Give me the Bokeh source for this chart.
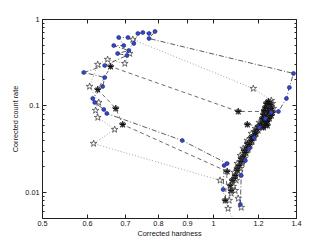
from bokeh.plotting import figure
from bokeh.models import FixedTicker, LogAxis, CustomJSTickFormatter, CustomLabelingPolicy
from bokeh.embed import file_html
from bokeh.resources import INLINE

# ---- data ----
x_ticks = [0.5, 0.6, 0.7, 0.8, 0.9, 1.0, 1.2, 1.4]
x_tick_labels = ["0.5", "0.6", "0.7", "0.8", "0.9", "1", "1.2", "1.4"]
y_ticks = [0.01, 0.1, 1.0]
y_tick_labels = ["0.01", "0.1", "1"]
y_minor = [0.006, 0.007, 0.008, 0.009, 0.02, 0.03, 0.04, 0.05, 0.06, 0.07, 0.08, 0.09,
           0.2, 0.3, 0.4, 0.5, 0.6, 0.7, 0.8, 0.9]

# outburst with blue dots (dash-dot)
blue_hardness = [1.115, 1.119, 1.138, 1.156, 1.180, 1.204, 1.234, 1.264, 1.301, 1.344, 1.360, 1.383,
                 0.770, 0.789, 0.770, 0.751, 0.736, 0.724, 0.707, 0.681, 0.695, 0.6675, 0.7095, 0.678,
                 0.704, 0.6435, 0.591, 0.6435, 0.638, 0.613, 0.618, 0.641, 0.649,
                 0.881, 1.057, 1.044, 1.040]
blue_rate = [0.00727, 0.0157, 0.0234, 0.0323, 0.0432, 0.0564, 0.0717, 0.0841, 0.0864, 0.1221, 0.1636, 0.238,
             0.603, 0.727, 0.689, 0.707, 0.689, 0.528, 0.619, 0.619, 0.500, 0.500, 0.438, 0.404,
             0.384, 0.294, 0.244, 0.2136, 0.168, 0.1221, 0.1098, 0.0911, 0.0819,
             0.0399, 0.0216, 0.0205, 0.0108]

# outburst with asterisks (dashed)
ast_hardness = [1.074, 1.088, 1.101, 1.119, 1.133, 1.147, 1.166, 1.185, 1.199, 1.224, 1.239, 1.249,
                1.244, 1.254, 1.229, 1.1055,
                0.659, 0.6255, 0.673, 0.692,
                1.057, 1.0485]
ast_rate = [0.0105, 0.0145, 0.0189, 0.0247, 0.0306, 0.0368, 0.0432, 0.0507, 0.0579, 0.0662, 0.0756, 0.0841,
            0.0961, 0.1069, 0.0864, 0.0864,
            0.286, 0.1551, 0.0935, 0.0611,
            0.0175, 0.00809]

ast2_hardness = [1.070, 1.079, 1.092, 1.101, 1.110, 1.119, 1.128, 1.138, 1.147, 1.156, 1.166, 1.175,
                 1.185, 1.194, 1.204, 1.214, 1.224, 1.234, 1.239, 1.244, 1.249, 1.254, 1.259, 1.264,
                 1.254, 1.244, 1.234, 1.224, 1.147]
ast2_rate = [0.0120, 0.0138, 0.0157, 0.0180, 0.0205, 0.0228, 0.0261, 0.0290, 0.0331, 0.0359, 0.0399, 0.0444,
             0.0481, 0.0535, 0.0579, 0.0628, 0.0698, 0.0756, 0.0819, 0.0887, 0.0988, 0.1041, 0.0935, 0.0841,
             0.0756, 0.0698, 0.0645, 0.0579, 0.0611]

ast3_hardness = [1.224, 1.234, 1.244, 1.254, 1.264, 1.2695, 1.264, 1.259, 1.249, 1.239, 1.234, 1.229,
                 1.224, 1.219, 1.229, 1.244]
ast3_rate = [0.0564, 0.0611, 0.0662, 0.0717, 0.0777, 0.0841, 0.0935, 0.1041, 0.1128, 0.1069, 0.0961, 0.0887,
             0.0797, 0.0717, 0.0662, 0.0595]

# outburst with open stars (dotted)
star_hardness = [1.119, 1.1055, 1.092, 1.088, 1.101, 1.115, 1.128, 1.147, 1.166, 1.185, 1.204, 1.229,
                 1.244, 1.259, 1.264, 1.175,
                 0.721, 0.712, 0.698, 0.651, 0.6255, 0.605, 0.628, 0.620, 0.6255, 0.670, 0.615,
                 1.027, 1.061, 1.079]
star_rate = [0.00671, 0.00853, 0.0105, 0.0170, 0.0216, 0.0268, 0.0323, 0.0399, 0.0481, 0.0549, 0.0645, 0.0736,
             0.0841, 0.0988, 0.1158, 0.1593,
             0.587, 0.404, 0.310, 0.345, 0.302, 0.168, 0.1098, 0.0887, 0.0736, 0.0535, 0.0368,
             0.0138, 0.00653, 0.00514]

star2_hardness = [1.0657, 1.0744, 1.0832, 1.0965, 1.1055, 1.1146, 1.1237, 1.133, 1.142, 1.1514, 1.1608,
                  1.1703, 1.180, 1.1895, 1.1992, 1.2, 1.2189, 1.2288, 1.2388, 1.249, 1.2592, 1.2643,
                  1.2695, 1.2746]
star2_rate = [0.00809, 0.00974, 0.01173, 0.0138, 0.01614, 0.01894, 0.0216, 0.0247, 0.02825, 0.03142, 0.0349,
              0.03889, 0.0432, 0.0481, 0.0521, 0.0564, 0.0628, 0.0680, 0.0736, 0.0797, 0.0887, 0.0988,
              0.1069, 0.0935]

FONT = "Liberation Sans"
FS = "7.3px"

p = figure(width=319, height=240, x_axis_type="log", y_axis_type="log",
           x_range=(0.5, 1.4), y_range=(0.005, 1.0),
           output_backend="svg", toolbar_location=None,
           min_border_left=42, min_border_right=23, min_border_top=19, min_border_bottom=22)
p.background_fill_color = "white"
p.border_fill_color = "white"
p.outline_line_color = "#222222"
p.outline_line_width = 1
p.xgrid.visible = False
p.ygrid.visible = False

FMT_CODE = """
let best = 0, d = 1e9;
for (let i = 0; i < tv.length; i++) { const e = Math.abs(Math.log(tv[i]) - Math.log(tick)); if (e < d) { d = e; best = i; } }
return tl[best];"""
xfmt = CustomJSTickFormatter(args=dict(tv=x_ticks, tl=x_tick_labels), code=FMT_CODE)
yfmt = CustomJSTickFormatter(args=dict(tv=y_ticks, tl=y_tick_labels), code=FMT_CODE)

NOLABEL_CODE = """
try {
  const keep = [];
  for (const i of indices) keep.push(i);
  for (const i of keep) indices.unset(i);
} catch (e) {}
return indices;"""

def style(ax, labels=True):
    ax.major_tick_in = 4
    ax.major_tick_out = 0
    ax.minor_tick_in = 2
    ax.minor_tick_out = 0
    ax.axis_line_color = "#222222"
    ax.major_tick_line_color = "#222222"
    ax.minor_tick_line_color = "#222222"
    if labels:
        ax.major_label_text_font = FONT
        ax.major_label_text_font_size = FS
        ax.major_label_text_color = "#111111"
        ax.axis_label_text_font = FONT
        ax.axis_label_text_font_size = FS
        ax.axis_label_text_font_style = "normal"
        ax.axis_label_text_color = "#111111"
    else:
        ax.major_label_text_font_size = "0px"
        ax.major_label_standoff = 0
        ax.major_label_policy = CustomLabelingPolicy(code=NOLABEL_CODE)

p.xaxis.ticker = FixedTicker(ticks=x_ticks)
p.yaxis.ticker = FixedTicker(ticks=y_ticks, minor_ticks=y_minor)
p.xaxis.formatter = xfmt
p.yaxis.formatter = yfmt
p.xaxis.axis_label = "Corrected hardness"
p.yaxis.axis_label = "Corrected count rate"
for ax in p.xaxis + p.yaxis:
    style(ax)
p.xaxis.major_label_standoff = 2
p.xaxis.axis_label_standoff = 0
p.yaxis.major_label_standoff = 3
p.yaxis.axis_label_standoff = 2

top = LogAxis(ticker=FixedTicker(ticks=x_ticks), formatter=xfmt)
style(top, labels=False)
p.add_layout(top, "above")
right = LogAxis(ticker=FixedTicker(ticks=y_ticks, minor_ticks=y_minor), formatter=yfmt)
style(right, labels=False)
p.add_layout(right, "right")

# lines
p.line(star_hardness, star_rate, line_color="#8a8a8a", line_width=0.8, line_dash="1 2")
p.line(star2_hardness, star2_rate, line_color="#8a8a8a", line_width=0.8, line_dash="1 2")
p.line(ast_hardness, ast_rate, line_color="#444444", line_width=0.8, line_dash="4 3")
p.line(ast2_hardness, ast2_rate, line_color="#444444", line_width=0.8, line_dash="4 3")
p.line(ast3_hardness, ast3_rate, line_color="#444444", line_width=0.8, line_dash="4 3")
p.line(blue_hardness, blue_rate, line_color="#333333", line_width=0.8, line_dash="5 2 1 2")

# markers
STAR = dict(marker="star", size=7, fill_color="white", line_color="#333333", line_width=0.7)
AST = dict(marker="asterisk", size=6, line_color="#111111", line_width=1)
p.scatter(star_hardness[:-1], star_rate[:-1], **STAR)
p.scatter(star2_hardness, star2_rate, **STAR)
for hx, ry in ((ast_hardness, ast_rate), (ast2_hardness, ast2_rate), (ast3_hardness, ast3_rate)):
    p.scatter(hx, ry, **STAR)
    p.scatter(hx, ry, **AST)
p.scatter(blue_hardness, blue_rate, marker="circle", size=4, fill_color="#3347c8",
          line_color="#1c2470", line_width=0.6)

open("out.html", "w").write(file_html(p, INLINE))
